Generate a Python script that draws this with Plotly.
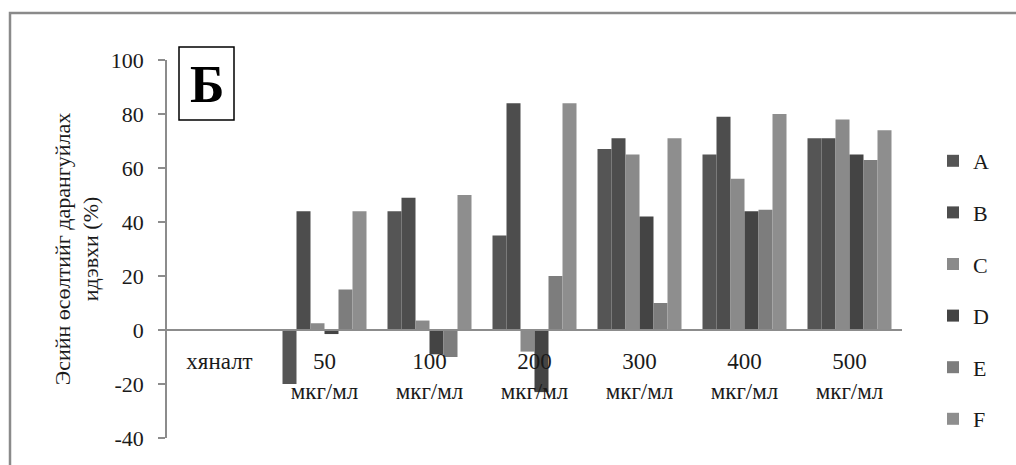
import plotly.graph_objects as go

# Categories (doses) and series values, %
categories = ["хяналт", "50<br>мкг/мл", "100<br>мкг/мл", "200<br>мкг/мл",
              "300<br>мкг/мл", "400<br>мкг/мл", "500<br>мкг/мл"]
series_names = ["A", "B", "C", "D", "E", "F"]
values_a = [0, -20, 44, 35, 67, 65, 71]
values_b = [0, 44, 49, 84, 71, 79, 71]
values_c = [0, 2.5, 3.5, -8, 65, 56, 78]
values_d = [0, -1.5, -9, -23, 42, 44, 65]
values_e = [0, 15, -10, 20, 10, 44.5, 63]
values_f = [0, 44, 50, 84, 71, 80, 74]
y_ticks = [-40, -20, 0, 20, 40, 60, 80, 100]
y_tick_text = ["-40", "-20", "0", "20", "40", "60", "80", "100"]

series_values = [values_a, values_b, values_c, values_d, values_e, values_f]
colors = ["#555555", "#4d4d4d", "#8a8a8a", "#444444", "#7d7d7d", "#8e8e8e"]

FONT = "Liberation Serif"
INK = "#1a1a1a"

fig = go.Figure()
for name, vals, col in zip(series_names, series_values, colors):
    fig.add_trace(go.Bar(
        x=categories, y=vals, name=name, legendgroup=name,
        marker=dict(color=col, line=dict(width=0)),
    ))

W, H = 1016, 465
L, R, T, B = 167, 114, 60, 27
pw, ph = W - L - R, H - T - B

def px_x(x):
    return (x - L) / pw

def px_y(y):
    return (H - B - y) / ph

fig.update_layout(
    width=W, height=H,
    margin=dict(l=L, r=R, t=T, b=B),
    paper_bgcolor="white", plot_bgcolor="white",
    barmode="group", bargap=0.2, bargroupgap=0,
    font=dict(family=FONT, size=21, color=INK),
    showlegend=True,
    legend=dict(
        x=px_x(933), y=px_y(140), xanchor="left", yanchor="top",
        font=dict(size=22, family=FONT, color=INK), traceorder="grouped",
        tracegroupgap=20, bgcolor="rgba(0,0,0,0)",
        itemwidth=30,
    ),
    xaxis=dict(
        type="category",
        anchor="free", position=40 / 140,
        showline=True, linecolor="#8c8c8c", linewidth=1.5,
        ticks="", showgrid=False, zeroline=False,
        tickfont=dict(size=23, family=FONT, color=INK),
        ticklabelstandoff=11,
        fixedrange=True,
    ),
    yaxis=dict(
        range=[-40, 100], tickvals=y_ticks, ticktext=y_tick_text,
        showline=True, linecolor="#8c8c8c", linewidth=1.5,
        ticks="outside", ticklen=7, tickcolor="#8c8c8c", tickwidth=1.5,
        showgrid=False, zeroline=False,
        tickfont=dict(size=22, family=FONT, color=INK),
        ticklabelstandoff=10,
        title=dict(text="Эсийн өсөлтийг дарангуйлах<br>идэвхи (%)",
                   font=dict(size=22, family=FONT, color=INK), standoff=6),
        fixedrange=True,
    ),
)

# Outer frame of the figure
fig.add_shape(type="rect", xref="paper", yref="paper",
              x0=px_x(10), x1=px_x(1030), y0=px_y(480), y1=px_y(13),
              line=dict(color="#8a8a8a", width=2.5), layer="below")

# Panel letter in a box
fig.add_shape(type="rect", xref="paper", yref="paper",
              x0=px_x(179), x1=px_x(234), y0=px_y(120), y1=px_y(47),
              line=dict(color="black", width=1.5), fillcolor="white")
fig.add_annotation(xref="paper", yref="paper",
                   x=px_x(206.5), y=px_y(84), xanchor="center", yanchor="middle",
                   text="<b>Б</b>", showarrow=False,
                   font=dict(size=52, family=FONT, color="black"))

fig.write_html("out.html")
